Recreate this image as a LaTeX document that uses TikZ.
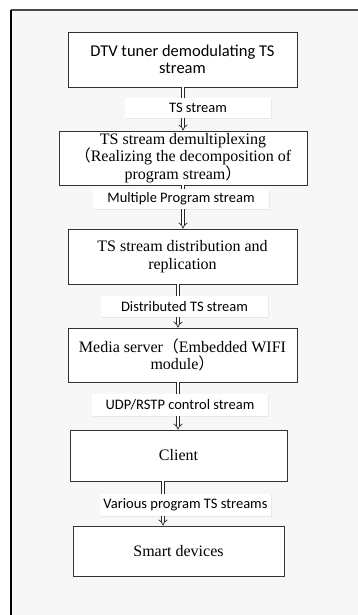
\documentclass[tikz,border=0pt]{standalone}
\usepackage{fontspec}
\setmainfont{Liberation Serif}
\newfontfamily\tagfont{Carlito}
\newfontfamily\cjkfont{Noto Sans CJK SC}
\usetikzlibrary{arrows.meta,positioning,shadows}
\definecolor{pagegray}{HTML}{F7F7F7}
\definecolor{boxline}{HTML}{333333}
\definecolor{framegray}{HTML}{4A4A4A}
\newcommand{\fwl}{{\cjkfont （}}
\newcommand{\fwr}{{\cjkfont ）}}

\begin{document}
\begin{tikzpicture}[
  x=1pt, y=-1pt,
  block/.style={draw=boxline, line width=0.8pt, fill=white, align=center,
                inner sep=1pt, font=\fontsize{16}{17.5}\selectfont,
                drop shadow={opacity=0.25, shadow xshift=1.2pt, shadow yshift=-1.2pt}},
  tag/.style={fill=white, inner sep=0pt, align=center,
              font=\tagfont\fontsize{14.5}{16}\selectfont,
              drop shadow={opacity=0.12, shadow xshift=1pt, shadow yshift=-1pt}},
  flow/.style={draw=black!85, line width=0.7pt, double=white, double distance=2.4pt,
               -{Implies[length=5pt, width=10pt]}}
]
\useasboundingbox (0,0) rectangle (358,615);
\fill[pagegray] (11,10) rectangle (358,615);
\draw[framegray, line width=1.2pt] (358,10) -- (11,10);
\draw[black, line width=1.4pt] (11,10) -- (11,615);

% stages
\node[block, minimum width=229pt, minimum height=55pt] (tuner) at (182.5,59.5)
  {\tagfont\fontsize{16.5}{18}\selectfont DTV tuner demodulating TS\\ \tagfont\fontsize{16.5}{18}\selectfont stream};
\node[block, minimum width=248pt, minimum height=54pt, inner ysep=0pt] (demux) at (183,158)
  {TS stream demultiplexing\\ \fwl Realizing the decomposition of\\ program stream\fwr};
\node[block, minimum width=229pt, minimum height=55pt] (distrib) at (182.5,256.5)
  {TS stream distribution and\\ replication};
\node[block, minimum width=229pt, minimum height=54pt] (server) at (182.5,355)
  {Media server\fwl Embedded WIFI\\ module\fwr};
\node[block, minimum width=217pt, minimum height=51pt] (client) at (178.5,455.5) {Client};
\node[block, minimum width=211pt, minimum height=50pt] (devices) at (178.5,551) {Smart devices};

% connectors
\draw[flow] ([xshift=0.5pt]tuner.south) -- ([xshift=0.5pt]tuner.south |- demux.north);
\draw[flow] (demux.south) -- (demux.south |- distrib.north);
\draw[flow] ([xshift=-4.5pt]distrib.south) -- ([xshift=-4.5pt]distrib.south |- server.north);
\draw[flow] ([xshift=-4.5pt]server.south) -- ([xshift=-4.5pt]server.south |- client.north);
\draw[flow] ([xshift=-15.5pt]client.south) -- ([xshift=-15.5pt]client.south |- devices.north);

% stream labels
\node[tag, minimum width=146pt, minimum height=20pt] (ts) at (198,108) {TS stream};
\node[tag, minimum width=176pt, minimum height=20pt] (multi) at (181,199) {Multiple Program stream};
\node[tag, minimum width=167pt, minimum height=21pt] (dist) at (184.5,306.5) {Distributed TS stream};
\node[tag, minimum width=176pt, minimum height=22pt] (udp) at (180,405) {UDP/RSTP control stream};
\node[tag, minimum width=171pt, minimum height=22pt] (various) at (185.5,505) {Various program TS streams};
\end{tikzpicture}
\end{document}
